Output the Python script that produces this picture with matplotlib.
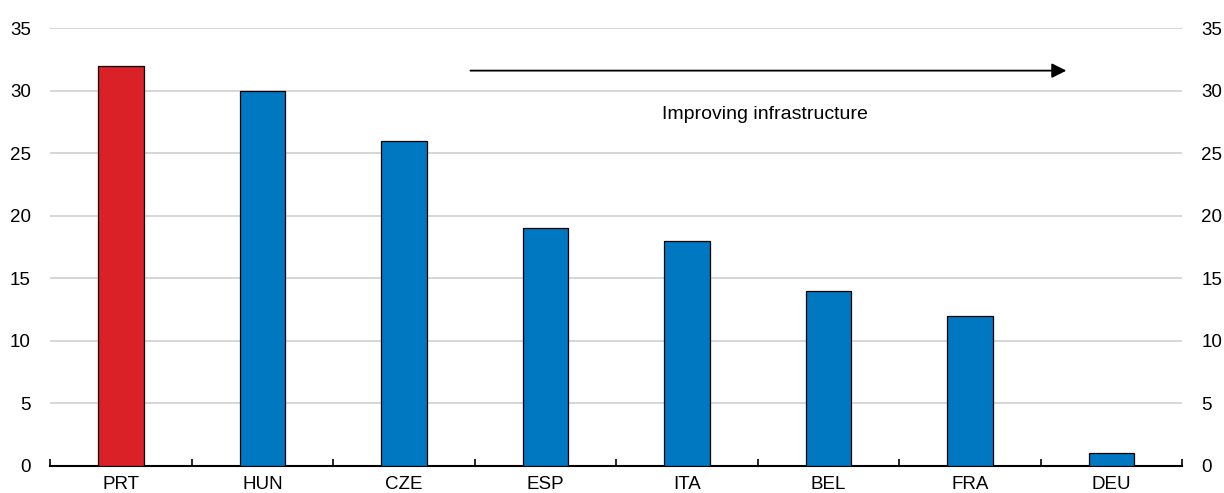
import numpy as np
import matplotlib.pyplot as plt

plt.rcParams["font.family"] = ["Liberation Sans", "DejaVu Sans"]

countries = ["PRT", "HUN", "CZE", "ESP", "ITA", "BEL", "FRA", "DEU"]
values = [32, 30, 26, 19, 18, 14, 12, 1]
colors = ["#DA2128"] + ["#0078C1"] * 7

fig, ax = plt.subplots(figsize=(12.24, 4.93), dpi=100)
fig.subplots_adjust(left=0.041, right=0.966, top=0.943, bottom=0.055)

x = np.arange(len(countries))
ax.bar(x, values, width=0.32, color=colors, edgecolor="black", linewidth=0.9, zorder=3)

ax.set_xlim(-0.5, len(countries) - 0.5)
ax.set_ylim(0, 35)
ax.set_yticks(range(0, 36, 5))
ax.grid(axis="y", color="#D0D0D0", linewidth=1.2, zorder=0)

ax.set_xticks(x)
ax.set_xticklabels(countries)
ax.set_xticks(np.arange(-0.5, len(countries), 1), minor=True)
ax.tick_params(axis="x", which="major", length=0, pad=7, labelsize=13.5)
ax.tick_params(axis="x", which="minor", direction="in", length=5, width=1.2)
ax.tick_params(axis="y", length=0, labelsize=13.5, pad=14)

for s in ["top", "right", "left"]:
    ax.spines[s].set_visible(False)
ax.spines["bottom"].set_linewidth(1.5)

ax2 = ax.twinx()
ax2.set_ylim(0, 35)
ax2.set_yticks(range(0, 36, 5))
ax2.tick_params(axis="y", length=0, labelsize=13.5, pad=13.5)
for s in ["top", "right", "left", "bottom"]:
    ax2.spines[s].set_visible(False)

ax.annotate("", xy=(6.7, 31.6), xytext=(2.45, 31.6),
            arrowprops=dict(arrowstyle="-|>", color="black", lw=1.3, mutation_scale=22))
ax.text(4.55, 28.1, "Improving infrastructure", ha="center", va="center", fontsize=14)

plt.savefig("out.png", dpi=100)
